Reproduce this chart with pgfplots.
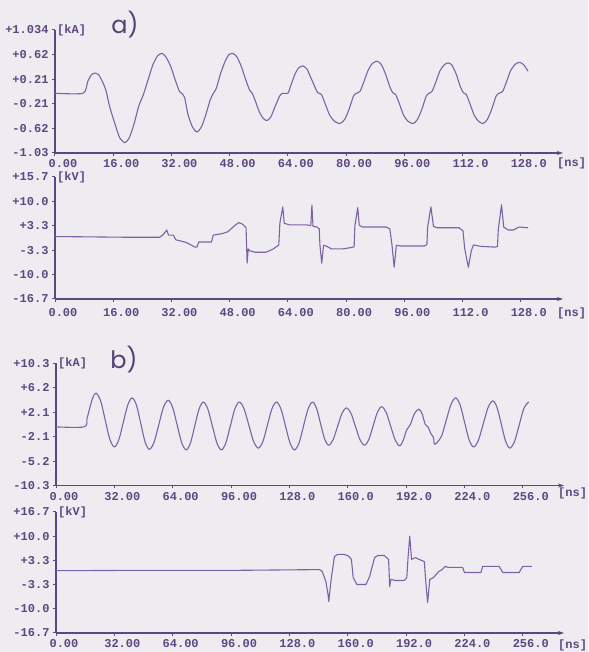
\documentclass[border=0pt]{standalone}
\usepackage{fontspec}
\usepackage{pgfplots}
\pgfplotsset{compat=1.18}
\usetikzlibrary{arrows.meta}
\newfontfamily\mono{Liberation Mono}
\newfontfamily\lab{Poppins}
\definecolor{paper}{RGB}{238,236,241}
\definecolor{ink}{RGB}{92,72,128}
\definecolor{tracecol}{RGB}{126,98,166}
\newcommand\tfont{\mono\bfseries\fontsize{12}{12}\selectfont}

\pgfplotsset{
  panel/.style={
    scale only axis, width=508pt, anchor=south west,
    axis x line=bottom, axis y line=left,
    x axis line style={-{Stealth[length=6pt,width=4pt]}},
    y axis line style={-},
    axis line style={draw=ink, line width=1.4pt},
    tick style={draw=ink, line width=1pt},
    major tick length=3pt, tick align=outside,
    ticklabel style={font=\tfont, text=ink},
    xticklabel style={xshift=8pt},
    xmin=0, clip=false,
  },
  wave/.style={draw=tracecol, line width=1.1pt, line join=round},
}

\begin{document}
\begin{tikzpicture}
\useasboundingbox (0,0) rectangle (588pt,652pt);
\fill[paper] (0,0) rectangle (588pt,652pt);

% a) current
\begin{axis}[panel, at={(55pt,499pt)}, height=123pt,
  xmax=139.6, ymin=-1.034, ymax=1.034,
  xtick={0,16,32,48,64,80,96,112,128},
  xticklabels={0.00,16.00,32.00,48.00,64.00,80.00,96.00,112.0,128.0},
  ytick={-1.034,-0.6204,-0.2068,0.2068,0.6204,1.034},
  yticklabels={-1.03,-0.62,-0.21,+0.21,+0.62,+1.034}]
\addplot[wave, smooth, tension=0.4] coordinates {
 (0,-0.03) (7.7,-0.03) (9.0,0.17) (10.0,0.28) (11.0,0.31) (12.0,0.28)
 (13.0,0.17) (14.0,0.02) (15.0,-0.25) (16.5,-0.55) (17.8,-0.78) (19.2,-0.86) (20.4,-0.78)
 (21.7,-0.55) (23.0,-0.25) (24.3,-0.05) (25.6,0.2) (26.9,0.45) (28.2,0.6) (29.4,0.64) (30.5,0.58)
 (31.8,0.42) (33.0,0.2) (34.2,0.0) (34.8,-0.03) (35.6,-0.1) (36.6,-0.4) (37.8,-0.6) (39.0,-0.68) (40.2,-0.6)
 (41.4,-0.4) (42.6,-0.15) (43.5,-0.03) (44.3,0.05) (45.5,0.3) (46.7,0.5) (47.8,0.62) (48.9,0.64) (50.0,0.58)
 (51.2,0.42) (52.4,0.2) (53.5,0.02) (54.2,-0.03) (55.0,-0.15) (56.2,-0.35) (57.2,-0.45) (58.2,-0.49) (59.3,-0.43)
 (60.5,-0.25) (61.8,-0.07) (62.6,-0.03) (64.0,-0.03) (64.8,0.1) (66.0,0.3) (67.0,0.4) (68.1,0.43) (69.2,0.38)
 (70.4,0.22) (71.6,0.05) (72.2,-0.02) (73.2,-0.05) (74.2,-0.2) (75.5,-0.4) (76.8,-0.5) (78.3,-0.54) (79.6,-0.47)
 (80.8,-0.3) (82.0,-0.08) (82.8,-0.03) (83.8,0.0) (84.8,0.15) (86.0,0.35) (87.2,0.47) (88.5,0.51) (89.6,0.46)
 (90.8,0.3) (92.0,0.08) (92.8,-0.02) (93.6,-0.05) (94.6,-0.2) (95.8,-0.4) (97.0,-0.5) (98.4,-0.54) (99.6,-0.47)
 (100.8,-0.3) (102.0,-0.08) (102.8,-0.03) (103.6,0.0) (104.6,0.15) (105.8,0.35) (107.0,0.45) (108.0,0.48) (109.0,0.45)
 (110.2,0.3) (111.4,0.08) (112.2,-0.02) (113.0,-0.05) (114.0,-0.2) (115.2,-0.4) (116.4,-0.5) (117.6,-0.54) (118.8,-0.47)
 (120.0,-0.3) (121.2,-0.08) (122.0,-0.03) (123.0,0.0) (124.0,0.15) (125.2,0.35) (126.5,0.46) (127.7,0.49) (128.8,0.45) (130.0,0.34)
};
\node[anchor=west, font=\tfont, text=ink, inner sep=0pt, xshift=2pt] at (rel axis cs:0,1) {[kA]};
\end{axis}

% a) voltage
\begin{axis}[panel, at={(55pt,353pt)}, height=122pt,
  xmax=139.6, ymin=-16.7, ymax=16.7,
  xticklabel style={yshift=-3pt},
  xtick={0,16,32,48,64,80,96,112,128},
  xticklabels={0.00,16.00,32.00,48.00,64.00,80.00,96.00,112.0,128.0},
  ytick={-16.7,-10.02,-3.34,3.34,10.02,16.7},
  yticklabels={-16.7,-10.0,-3.3,+3.3,+10.0,+15.7}]
\addplot[wave] coordinates {
 (0,0.4) (10,0.3) (20,0.2) (28.8,0.2) (29.8,1.0) (30.7,2.2) (31.2,0.8) (32.5,0.8) (33.2,-0.5)
 (36,-1.2) (38.5,-2.5) (39,-2.5) (39.5,-1.1) (43,-1.1) (43.5,0.8) (46,1.2) (47.5,1.7) (49.5,3.5)
 (50.5,4.2) (51.5,3.8) (52.5,2.8) (52.8,-6.9) (53.1,-3.0) (53.5,-3.5) (55,-3.9) (58,-3.9) (60,-3.0)
 (61.5,-1.9) (61.8,4.1) (62.6,8.5) (63.0,4.0) (64.5,3.6) (69,3.6) (70.3,3.4) (70.6,9.0) (70.9,3.2)
 (72,3.0) (72.6,2.5) (72.8,-1.9) (73.3,-6.9) (73.8,-2.0) (74.5,-2.2) (76,-3.0) (79,-3.0) (81.5,-2.6)
 (82.2,-2.4) (82.4,3.3) (83.2,8.3) (83.6,3.5) (84.5,3.0) (91,3.0) (92,2.5) (92.6,-1.9) (93.2,-8.0)
 (93.8,-2.0) (95,-2.2) (101.5,-2.2) (102.2,-1.8) (102.4,3.0) (103.3,8.5) (104,3.2) (105,2.8) (111,2.8)
 (112.1,2.0) (112.6,-3.0) (113.6,-8.0) (114.4,-3.5) (115,-1.9) (117,-2.3) (121,-2.5) (121.6,-2.3)
 (121.8,2.2) (122.7,9.1) (123.3,3.0) (124.5,2.2) (126,2.2) (127.5,3.0) (130,2.8)
};
\node[anchor=west, font=\tfont, text=ink, inner sep=0pt, xshift=2pt] at (rel axis cs:0,1) {[kV]};
\end{axis}

% b) current
\begin{axis}[panel, at={(56pt,166.5pt)}, height=122pt,
  xmax=278.6, ymin=-10.3, ymax=10.3,
  xtick={0,32,64,96,128,160,192,224,256},
  xticklabels={0.00,32.00,64.00,96.00,128.0,160.0,192.0,224.0,256.0},
  ytick={-10.3,-6.18,-2.06,2.06,6.18,10.3},
  yticklabels={-10.3,-5.2,-2.1,+2.1,+6.2,+10.3}]
\addplot[wave, smooth, tension=0.5] coordinates {
 (0,-0.4) (15.4,-0.4) (17.0,1.0) (18.6,2.9) (20.3,4.6) (22,5.3)
 (24.5,3.97) (27,0.75) (29.5,-2.47) (32,-3.8)
 (34.45,-2.58) (36.9,0.35) (39.35,3.28) (41.8,4.5)
 (44.15,3.23) (46.5,0.15) (48.85,-2.93) (51.2,-4.2)
 (53.8,-2.98) (56.35,-0.05) (58.9,2.88) (61.5,4.1)
 (63.98,2.87) (66.45,-0.1) (68.93,-3.07) (71.4,-4.3)
 (73.75,-3.11) (76.1,-0.25) (78.45,2.61) (80.8,3.8)
 (83.28,2.61) (85.75,-0.25) (88.23,-3.11) (90.7,-4.3)
 (93.15,-3.11) (95.6,-0.25) (98.05,2.61) (100.5,3.8)
 (103.13,2.66) (105.75,-0.1) (108.38,-2.86) (111,-4.0)
 (113.48,-2.86) (115.95,-0.1) (118.43,2.66) (120.9,3.8)
 (123.38,2.61) (125.85,-0.25) (128.33,-3.11) (130.8,-4.3)
 (133.28,-3.11) (135.75,-0.25) (138.23,2.61) (140.7,3.8)
 (142.9,2.73) (145.1,0.15) (147.3,-2.43) (149.5,-3.5)
 (151.95,-2.58) (154.4,-0.35) (156.85,1.88) (159.3,2.8)
 (161.78,1.88) (164.25,-0.35) (166.73,-2.58) (169.2,-3.5)
 (171.55,-2.55) (173.9,-0.25) (176.25,2.05) (178.6,3.0)
 (181.08,2.03) (183.55,-0.3) (186.03,-2.63) (188.5,-3.6)
 (190.5,-2.6) (192.3,-0.9) (193.5,-0.4) (194.5,0.1) (196.5,1.8) (198.9,2.6)
 (200.8,1.8) (202.5,0.0) (204,-0.4) (205.5,-1.5) (207,-2.2) (207.5,-3.3) (208.8,-3.1)
 (211.4,-1.99) (214,0.7) (216.6,3.39) (219.2,4.5)
 (221.65,3.28) (224.1,0.35) (226.55,-2.58) (229,-3.8)
 (231.65,-2.66) (234.3,0.1) (236.95,2.86) (239.6,4.0)
 (241.93,2.83) (244.25,0) (246.58,-2.83) (248.9,-4.0)
 (251.5,-2.83) (254.1,0) (256.7,2.8) (259.3,3.8)
};
\node[anchor=west, font=\tfont, text=ink, inner sep=0pt, xshift=2pt] at (rel axis cs:0,1) {[kA]};
\end{axis}

% b) voltage
\begin{axis}[panel, at={(56pt,19pt)}, height=121pt,
  xmax=278.6, ymin=-16.7, ymax=16.7,
  xtick={0,32,64,96,128,160,192,224,256},
  xticklabels={0.00,32.00,64.00,96.00,128.0,160.0,192.0,224.0,256.0},
  ytick={-16.7,-10.02,-3.34,3.34,10.02,16.7},
  yticklabels={-16.7,-10.0,-3.3,+3.3,+10.0,+16.7}]
\addplot[wave] coordinates {
 (0,0.5) (50,0.6) (100,0.6) (144.5,0.8) (146,0.3) (148,-2.5) (149.2,-6.1) (149.6,-8.0) (150.2,-5)
 (151,-1.5) (152.7,4.4) (154.5,5.0) (158,5.0) (160.5,4.5) (162,3.6) (163,-1.4) (165,-3.3) (170,-3.3)
 (172,-1.1) (174.7,4.1) (176.5,4.7) (180,4.7) (182.4,3.6) (183,-3.9) (183.6,-1.9) (186,-2.2)
 (191,-2.2) (192.4,-1.4) (193,3.6) (194,10.0) (195,3.6) (197,4.1) (202,3.0) (202.7,-1.9)
 (203.8,-8.3) (205,-1.9) (207,-1.4) (210,0.3) (211.7,0.8) (213.5,1.7) (215,1.4) (223,1.4)
 (224,0) (233,0) (234,1.7) (243,1.7) (245,0) (254,0) (256,1.7) (261,1.7)
};
\node[anchor=west, font=\tfont, text=ink, inner sep=0pt, xshift=2pt] at (rel axis cs:0,1) {[kV]};
\end{axis}

% unit labels of the time axes and panel letters
\begin{scope}[every node/.style={font=\tfont, text=ink, inner sep=0pt, anchor=west}]
\node at (557pt,489pt) {[ns]};
\node at (557pt,339pt) {[ns]};
\node at (558pt,159pt) {[ns]};
\node at (558pt,7pt) {[ns]};
\end{scope}
\node[font=\lab\fontsize{24}{24}\selectfont, text=ink!90!black, inner sep=0pt] at (125pt,627pt) {a)};
\node[font=\lab\fontsize{24}{24}\selectfont, text=ink!90!black, inner sep=0pt] at (124pt,292pt) {b)};
\end{tikzpicture}
\end{document}
